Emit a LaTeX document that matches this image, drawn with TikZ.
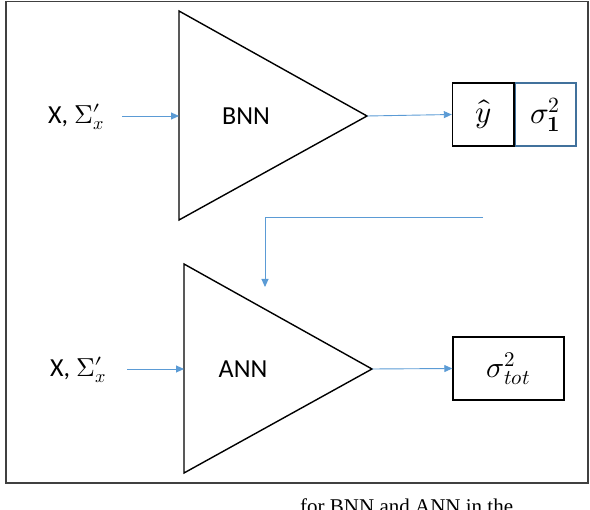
\documentclass[tikz,border=0pt]{standalone}
\usepackage{fontspec}
\usepackage{unicode-math}
\setmainfont{Carlito}
\setmathfont{Latin Modern Math}
\newfontfamily\capfont{Liberation Serif}
\usetikzlibrary{arrows.meta}
\definecolor{arrblue}{HTML}{5B9BD5}
\definecolor{boxblue}{HTML}{41719C}
\definecolor{framegray}{HTML}{404040}
\newcommand{\sigx}{$\Sigma\mathord{\prime}_{\kern-0.3em x}$}
\tikzset{
  tri/.style={draw=black, line width=1.4pt, line join=miter},
  conn/.style={draw=arrblue, line width=0.9pt, -{Triangle[length=8pt,width=7pt]}},
  lbl/.style={font=\fontsize{26}{30}\selectfont, inner sep=0pt},
  outbox/.style={draw=black, line width=1.4pt, minimum width=61pt, minimum height=63pt, inner sep=0pt, font=\fontsize{31}{36}\selectfont},
}
\begin{document}
\begin{tikzpicture}[x=1pt,y=-1pt]
\useasboundingbox (0,0) rectangle (590,510);
\begin{scope}
\clip (0,0) rectangle (590,510);
% frame
\draw[draw=framegray, line width=1.6pt] (6,1.5) rectangle (588,483);
% BNN triangle
\draw[tri] (179,11) -- (367,116) -- (179,220) -- cycle;
\coordinate (bnnin) at (179,116);
\coordinate (bnnout) at (367,116);
\node[lbl] (bnn) at (246,116) {BNN};
% ANN triangle
\draw[tri] (184,264) -- (372,369) -- (184,473) -- cycle;
\coordinate (annin) at (184,369);
\coordinate (annout) at (372,369);
\node[lbl] (ann) at (243,369) {ANN};
% inputs
\node[lbl, anchor=west] (in1) at (48,117) {X, \sigx};
\node[lbl, anchor=west] (in2) at (50,370) {X, \sigx};
\coordinate (in1e) at (122,116);
\coordinate (in2e) at (127,369);
\draw[conn] (in1e) -- (bnnin);
\draw[conn] (in2e) -- (annin);
% outputs
\node[outbox] (yhat) at (483,114.5) {$\hat{y}$};
\node[outbox, draw=boxblue, anchor=west] (sig1) at (yhat.east) {$\sigma_{\symbf{1}}^{2}$};
\draw[draw=black, line width=1.4pt] (yhat.north east) -- (yhat.south east);
\node[outbox, minimum width=111pt, font=\fontsize{30}{34}\selectfont] (sigtot) at (508.5,368.5) {$\sigma_{tot}^{2}$};
\draw[conn] (bnnout) -- (yhat.west);
\draw[conn] (annout) -- (sigtot.west);
% feedback
\coordinate (fbstart) at (483,217);
\coordinate (fbcorner) at (265,217);
\coordinate (fbend) at (265,287);
\draw[conn] (fbstart) -- (fbcorner) -- (fbend);
% clipped caption
\node[anchor=base west, inner sep=0pt, font=\capfont\fontsize{21}{24}\selectfont] (cap) at (300,514) {for BNN and ANN in the};
\end{scope}
\end{tikzpicture}
\end{document}
